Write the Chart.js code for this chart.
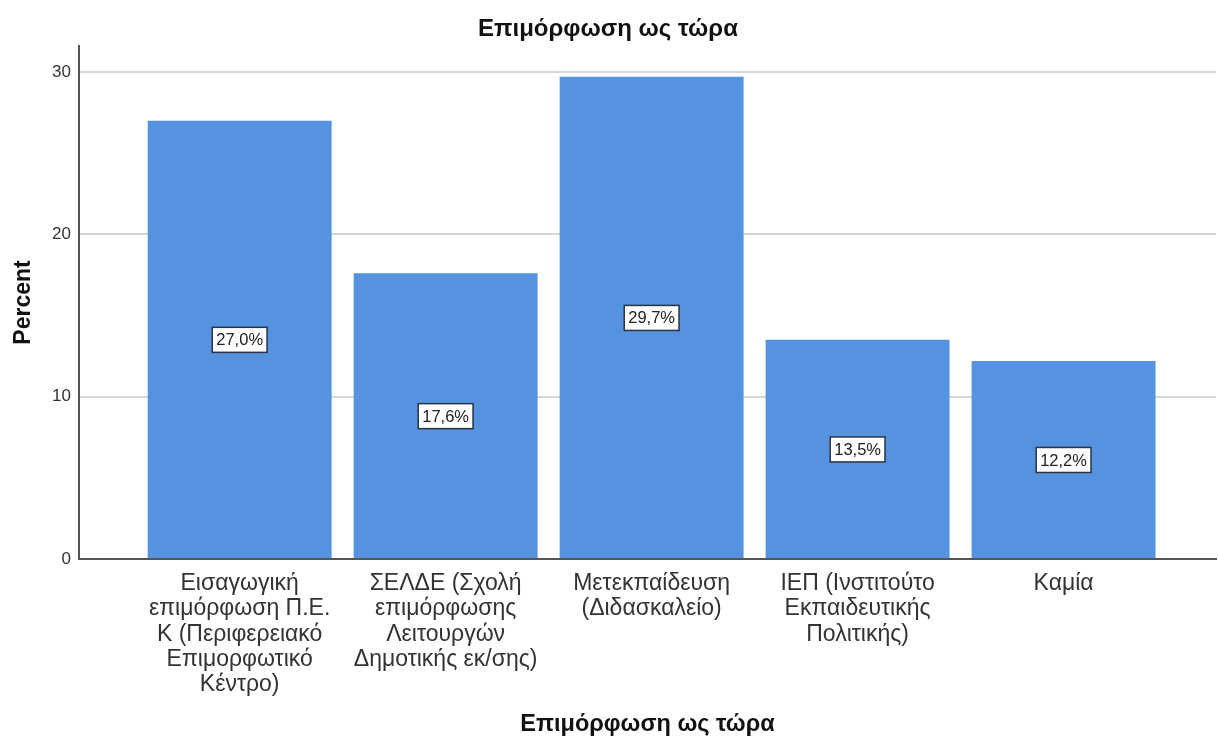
<!DOCTYPE html>
<html>
<head>
<meta charset="utf-8">
<script src="https://cdn.jsdelivr.net/npm/chart.js@4"></script>
<style>
  html, body { margin: 0; padding: 0; background: #fff; }
  #wrap { width: 1218px; height: 744px; }
</style>
</head>
<body>
<div id="wrap"><canvas id="myChart" width="1218" height="744"></canvas></div>
<script>
const chartTitle = "Επιμόρφωση ως τώρα"
const xTitle = "Επιμόρφωση ως τώρα"
const yTitle = "Percent"

// x labels, one array of lines per bar
const categories = [
  ["Εισαγωγική", "επιμόρφωση Π.Ε.", "Κ (Περιφερειακό", "Επιμορφωτικό", "Κέντρο)"],
  ["ΣΕΛΔΕ (Σχολή", "επιμόρφωσης", "Λειτουργών", "Δημοτικής εκ/σης)"],
  ["Μετεκπαίδευση", "(Διδασκαλείο)"],
  ["ΙΕΠ (Ινστιτούτο", "Εκπαιδευτικής", "Πολιτικής)"],
  ["Καμία"],
]
const percents = [27.0, 17.6, 29.7, 13.5, 12.2]
const percentLabels = ["27,0%", "17,6%", "29,7%", "13,5%", "12,2%"]

const font = "'Liberation Sans', Arial, sans-serif"

// white boxes with the percent in the middle of each bar
const boxLabels = {
  id: "boxLabels",
  afterDatasetsDraw(chart) {
    const ctx = chart.ctx
    const meta = chart.getDatasetMeta(0)
    const yScale = chart.scales.y
    ctx.save()
    ctx.font = "16.5px " + font
    ctx.textAlign = "center"
    ctx.textBaseline = "middle"
    meta.data.forEach((bar, i) => {
      const x = bar.x
      const y = yScale.getPixelForValue(percents[i] / 2)
      const w = ctx.measureText(percentLabels[i]).width + 8
      const h = 25
      ctx.fillStyle = "#fff"
      ctx.fillRect(x - w / 2, y - h / 2, w, h)
      ctx.strokeStyle = "#2a3340"
      ctx.lineWidth = 1.5
      ctx.strokeRect(x - w / 2, y - h / 2, w, h)
      ctx.fillStyle = "#222"
      ctx.fillText(percentLabels[i], x, y + 1)
    })
    ctx.restore()
  },
}

const ctx = document.getElementById("myChart").getContext("2d")
const myChart = new Chart(ctx, {
  type: "bar",
  data: {
    datasets: [
      {
        data: percents.map((v, i) => ({ x: i, y: v })),
        backgroundColor: "#5592e0",
        borderWidth: 0,
        barPercentage: 0.893,
        categoryPercentage: 1,
      },
    ],
  },
  options: {
    responsive: false,
    animation: false,
    layout: { padding: { left: 0, right: 2, top: 0, bottom: 0 } },
    plugins: {
      legend: { display: false },
      tooltip: { enabled: false },
      title: {
        display: true,
        text: chartTitle,
        color: "#111",
        font: { family: font, size: 24, weight: "bold" },
        padding: { top: 14.6, bottom: 2.6 },
      },
    },
    scales: {
      x: {
        type: "linear",
        offset: false,
        min: -0.78,
        max: 4.74,
        afterBuildTicks: (scale) => {
          scale.ticks = categories.map((c, i) => ({ value: i }))
        },
        afterFit: (scale) => {
          scale.height = 185
        },
        grid: { display: false, drawTicks: false, offset: false },
        border: { display: true, color: "#555", width: 2 },
        ticks: {
          autoSkip: false,
          maxRotation: 0,
          padding: 12,
          color: "#333",
          font: { family: font, size: 23, lineHeight: 1.1 },
          callback: (value) => categories[value],
        },
        title: {
          display: true,
          text: xTitle,
          color: "#111",
          font: { family: font, size: 23.5, weight: "bold" },
          padding: { top: 0, bottom: 5 },
        },
      },
      y: {
        min: 0,
        max: 31.6,
        afterFit: (scale) => {
          scale.width = 79
        },
        grid: { color: "#d6d6d6", lineWidth: 2, drawTicks: false },
        border: { display: true, color: "#555", width: 2 },
        ticks: {
          stepSize: 10,
          includeBounds: false,
          padding: 8,
          color: "#333",
          font: { family: font, size: 17 },
        },
        title: {
          display: true,
          text: yTitle,
          color: "#111",
          font: { family: font, size: 23, weight: "bold" },
          padding: { top: 10, bottom: 0 },
        },
      },
    },
  },
  plugins: [boxLabels],
})
</script>
</body>
</html>
